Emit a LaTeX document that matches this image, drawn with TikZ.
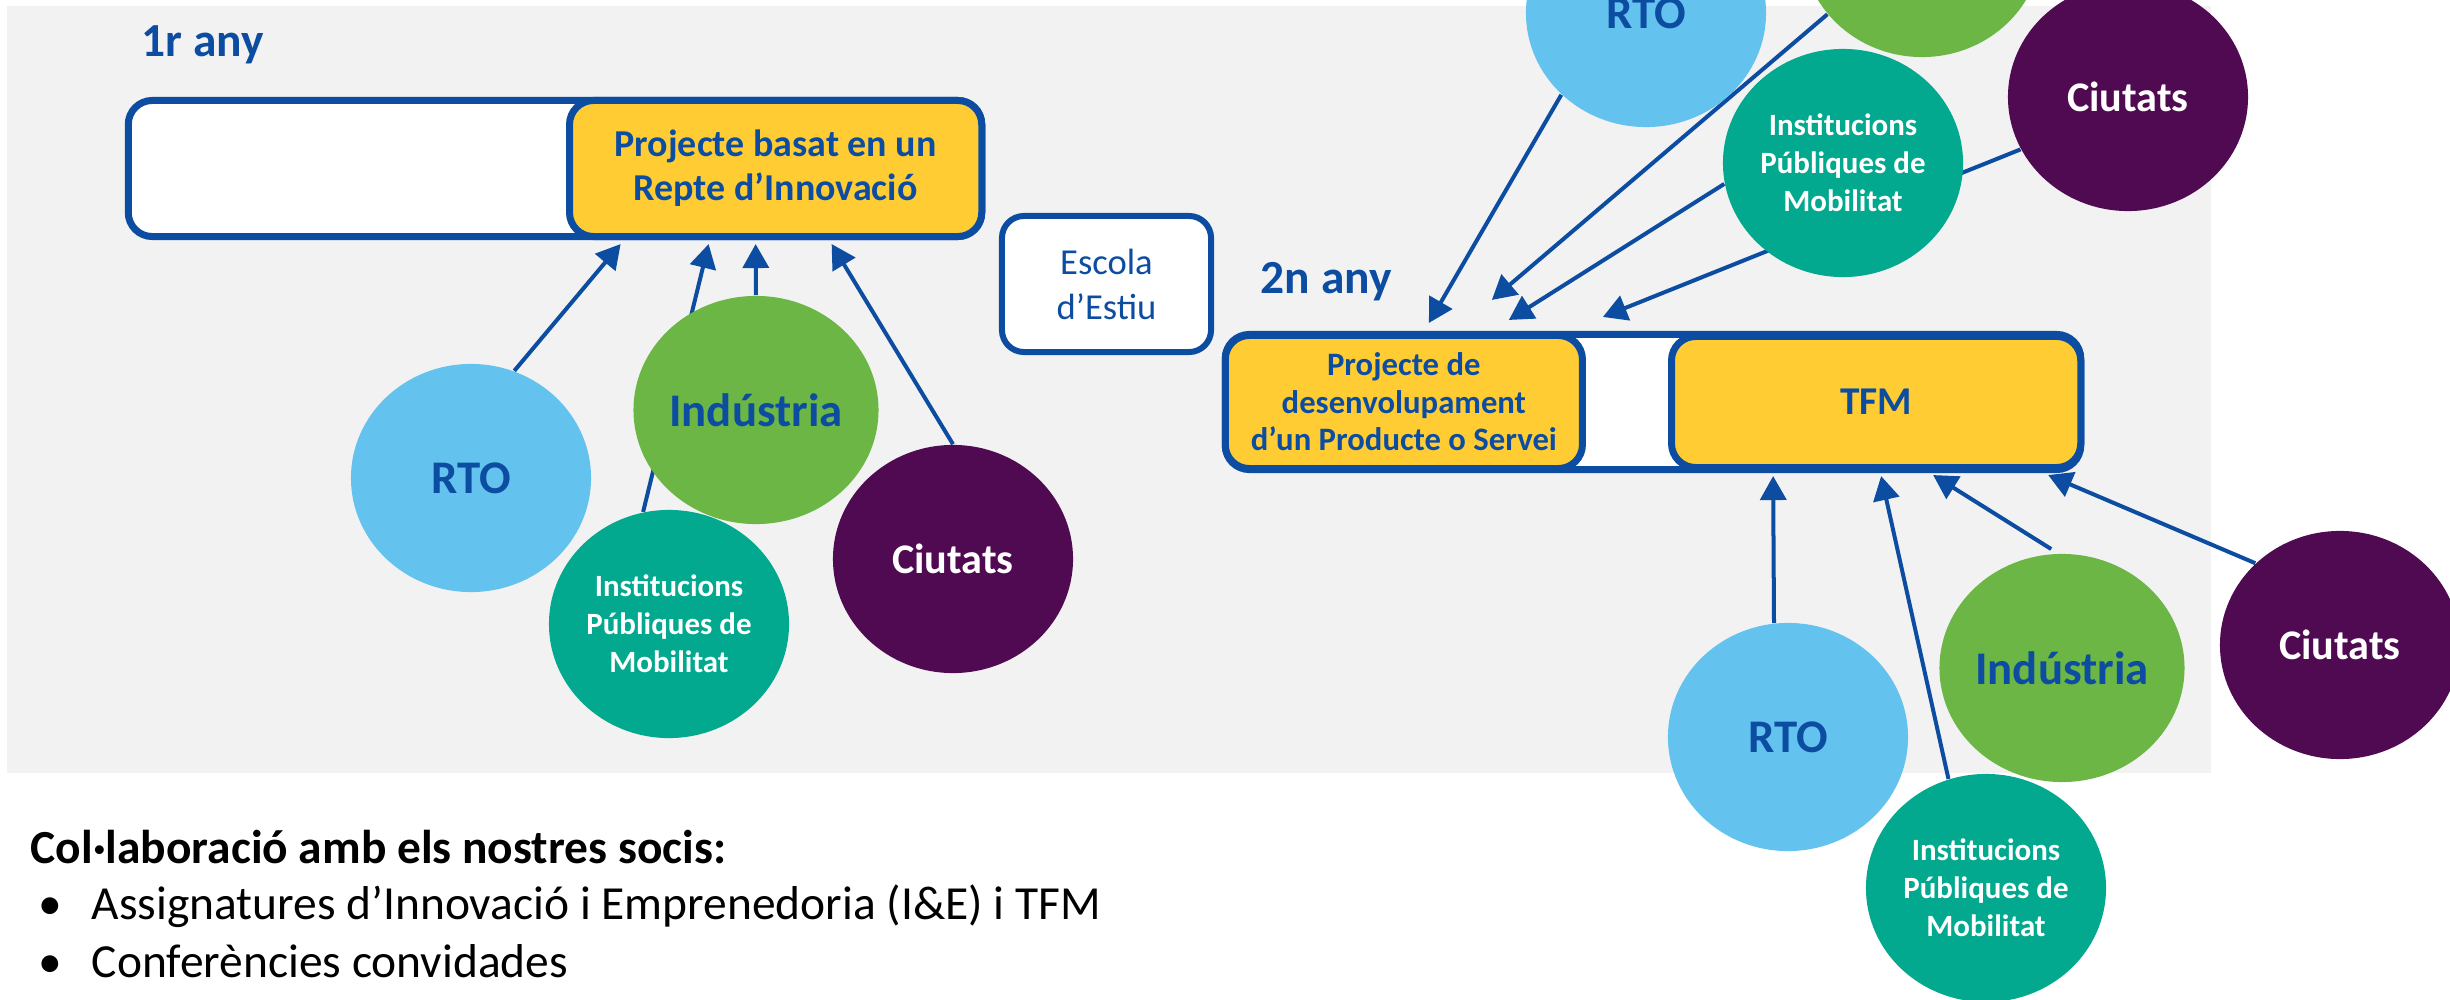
\documentclass[tikz,border=0pt]{standalone}
\usepackage{fontspec}
\setmainfont{Carlito}
\usetikzlibrary{shapes.geometric, arrows.meta, positioning, calc}

\definecolor{darkblue}{RGB}{12, 77, 162}
\definecolor{boxyellow}{RGB}{255, 205, 51}
\definecolor{rtoblue}{RGB}{99, 194, 238}
\definecolor{indgreen}{RGB}{108, 182, 70}
\definecolor{instteal}{RGB}{2, 169, 142}
\definecolor{ciupurple}{RGB}{80, 10, 82}
\definecolor{bggray}{RGB}{242, 242, 242}

\pgfdeclarelayer{back}
\pgfdeclarelayer{lines}
\pgfsetlayers{back,lines,main}

\tikzset{
  yearlabel/.style={anchor=base west, inner sep=0pt, text=darkblue, font=\fontsize{13.5}{16}\selectfont\bfseries},
  outline/.style={draw=darkblue, line width=0.7mm, rounded corners=2.4mm, fill=white, inner sep=0pt},
  projbox/.style={outline, fill=boxyellow, text=darkblue, align=center},
  partner/.style={ellipse, minimum width=2.4cm, minimum height=2.28cm, inner sep=0pt, align=center},
  rto/.style={partner, fill=rtoblue, text=darkblue, font=\fontsize{13.3}{16}\selectfont\bfseries},
  ind/.style={partner, fill=indgreen, text=darkblue, font=\fontsize{13.3}{16}\selectfont\bfseries},
  inst/.style={partner, fill=instteal, text=white, font=\fontsize{8.8}{10.8}\selectfont\bfseries},
  ciu/.style={partner, fill=ciupurple, text=white, font=\fontsize{12}{14}\selectfont\bfseries},
  link/.style={draw=darkblue, line width=0.4mm, -{Triangle[length=2.4mm, width=2.6mm]}},
  plaintext/.style={anchor=base west, inner sep=0pt, font=\fontsize{13.5}{16}\selectfont}
}

\begin{document}
\begin{tikzpicture}[x=0.01cm, y=-0.01cm]
  \useasboundingbox (0,0) rectangle (2450,1000);
  \clip (0,0) rectangle (2450,1000);
  \begin{pgfonlayer}{back}
    \fill[bggray] (7,6) rectangle (2211,773);
  \end{pgfonlayer}

  % first year
  \node[yearlabel] (any1) at (141,56) {1r any};
  \node[outline, minimum width=8.53cm, minimum height=1.36cm] (box1) at (555,168.5) {};
  \node[projbox, minimum width=4.12cm, minimum height=1.36cm, anchor=east,
        font=\fontsize{10.8}{12.5}\selectfont\bfseries] (proj1) at (box1.east)
        {Projecte basat en un\\Repte d’Innovació};

  \node[outline, line width=0.6mm, rounded corners=2.2mm, minimum width=2.09cm, minimum height=1.36cm,
        text=darkblue, align=center, font=\fontsize{10.4}{12.8}\selectfont] (escola) at (1106.5,284)
        {Escola\\d’Estiu};

  \node[rto] (rto1) at (471,478) {RTO};
  \node[inst] (inst1) at (669,624) {Institucions\\Públiques de\\Mobilitat};
  \node[ind] (ind1) at (756,410) {Indústria};
  \node[ciu] (ciu1) at (953,559) {Ciutats};

  % second year
  \node[yearlabel] (any2) at (1260,293) {2n any};
  \node[outline, minimum width=8.55cm, minimum height=1.35cm] (box2) at (1653,402) {};
  \node[projbox, minimum width=3.57cm, minimum height=1.33cm, anchor=west,
        font=\fontsize{9.3}{10.7}\selectfont\bfseries] (proj2) at (box2.west)
        {Projecte de\\desenvolupament\\d’un Producte o Servei};
  \node[projbox, minimum width=4.09cm, minimum height=1.31cm, anchor=east,
        font=\fontsize{11.2}{13}\selectfont\bfseries] (tfm) at (box2.east) {TFM};

  \node[rto] (rto2) at (1646,13) {RTO};
  \node[ind] (ind2) at (1922,-57) {};
  \node[inst] (inst2) at (1843,163) {Institucions\\Públiques de\\Mobilitat};
  \node[ciu] (ciu2) at (2128,97) {Ciutats};

  \node[rto] (rto3) at (1788,737) {RTO};
  \node[ind] (ind3) at (2062,668) {Indústria};
  \node[inst] (inst3) at (1986,888) {Institucions\\Públiques de\\Mobilitat};
  \node[ciu] (ciu3) at (2340,645) {Ciutats};

  % partners -> projects
  \begin{pgfonlayer}{lines}
    \draw[link] (rto1.68) -- ($(proj1.south)+(-155,4)$);
    \draw[link] (inst1.103) -- ($(proj1.south)+(-67,4)$);
    \draw[link] (ind1.north) -- ($(proj1.south)+(-20,4)$);
    \draw[link] (ciu1.north) -- ($(proj1.south)+(56,4)$);

    \draw[link] (rto2.224) -- ($(proj2.north)+(25,-9)$);
    \draw[link] (ind2.217) -- ($(proj2.north)+(88,-32)$);
    \draw[link] (inst2.190) -- ($(proj2.north)+(105,-12)$);
    \draw[link] (ciu2.206) -- ($(proj2.north)+(199,-15)$);

    \draw[link] (rto3.97) -- ($(tfm.south)+(-103,5)$);
    \draw[link] (inst3.109) -- ($(tfm.south)+(5,5)$);
    \draw[link, shorten <=0.8mm] (ind3.92) -- ($(tfm.south)+(57,4)$);
    \draw[link] (ciu3.136) -- ($(tfm.south)+(172,4)$);
  \end{pgfonlayer}

  % partners list
  \node[plaintext, font=\fontsize{13.5}{16}\selectfont\bfseries] (collab) at (30,863)
        {Col·laboració amb els nostres socis:};
  \node[plaintext] (dot1) at (38,919) {•};
  \node[plaintext] (item1) at (91,919) {Assignatures d’Innovació i Emprenedoria (I\&E) i TFM};
  \node[plaintext] (dot2) at (38,977) {•};
  \node[plaintext] (item2) at (91,977) {Conferències convidades};
\end{tikzpicture}
\end{document}
